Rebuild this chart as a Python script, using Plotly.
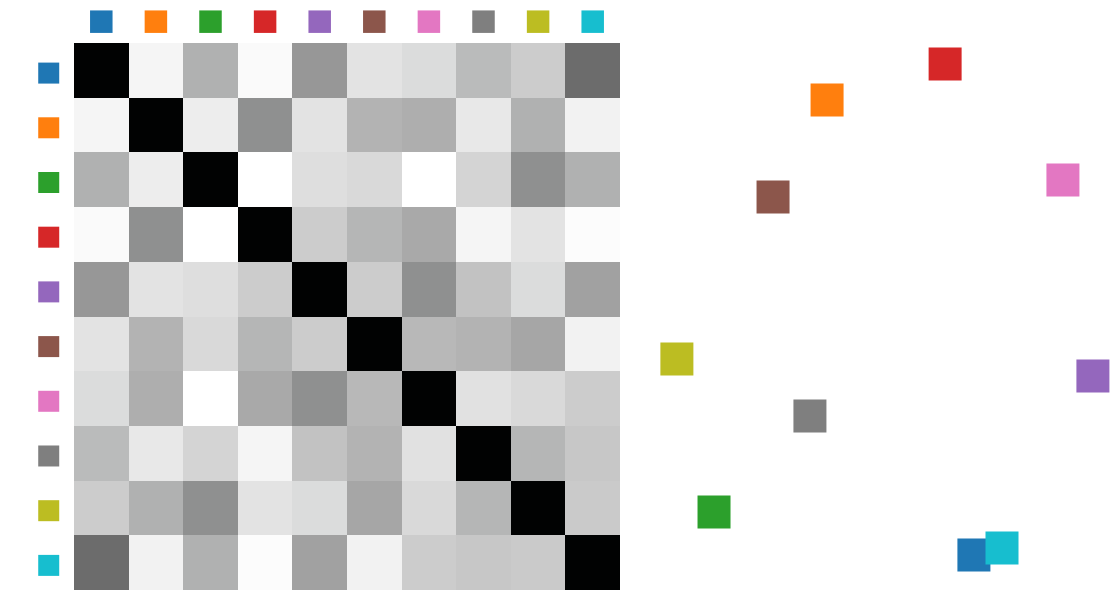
import plotly.graph_objects as go

# ---------------- data ----------------
categories = ["blue", "orange", "green", "red", "purple",
              "brown", "pink", "gray", "olive", "cyan"]
colors = ["#1f77b4", "#ff7f0e", "#2ca02c", "#d62728", "#9467bd",
          "#8c564b", "#e377c2", "#7f7f7f", "#bcbd22", "#17becf"]

# similarity matrix (1 = black, 0 = white)
similarity = [
    [1.00, 0.04, 0.31, 0.02, 0.41, 0.11, 0.14, 0.27, 0.20, 0.58],
    [0.04, 1.00, 0.07, 0.44, 0.11, 0.30, 0.32, 0.09, 0.31, 0.05],
    [0.31, 0.07, 1.00, 0.00, 0.13, 0.15, 0.00, 0.17, 0.44, 0.31],
    [0.02, 0.44, 0.00, 1.00, 0.20, 0.29, 0.34, 0.04, 0.11, 0.01],
    [0.41, 0.11, 0.13, 0.20, 1.00, 0.20, 0.44, 0.24, 0.14, 0.37],
    [0.11, 0.30, 0.15, 0.29, 0.20, 1.00, 0.28, 0.30, 0.35, 0.05],
    [0.14, 0.32, 0.00, 0.34, 0.44, 0.28, 1.00, 0.12, 0.15, 0.20],
    [0.27, 0.09, 0.17, 0.04, 0.24, 0.30, 0.12, 1.00, 0.29, 0.22],
    [0.20, 0.31, 0.44, 0.11, 0.14, 0.35, 0.15, 0.29, 1.00, 0.21],
    [0.58, 0.05, 0.31, 0.01, 0.37, 0.05, 0.20, 0.22, 0.21, 1.00],
]

# 2-D embedding of the categories (right panel)
embed_x = [0.403, -0.214, -0.689, 0.282, 0.903, -0.441, 0.777, -0.286, -0.845, 0.521]
embed_y = [-0.859, 0.665, -0.715, 0.786, -0.260, 0.340, 0.397, -0.394, -0.203, -0.836]

# ---------------- figure ----------------
W, H = 1116, 597
n = len(categories)
idx = list(range(n))

TOP_LABEL_OFFSET = 0.39    # cell units above the top edge
LEFT_LABEL_OFFSET = 0.463  # cell units left of the left edge
LEFT_LABEL_SHIFT = 0.05    # small downward nudge of the row labels

fig = go.Figure()

fig.add_trace(go.Heatmap(
    z=similarity, x=idx, y=idx,
    colorscale=[[0, "rgb(255,255,255)"], [1, "rgb(1,2,2)"]],
    zmin=0, zmax=1, showscale=False, hoverinfo="skip",
    xaxis="x", yaxis="y",
))

# column labels (top)
fig.add_trace(go.Scatter(
    x=idx, y=[-0.5 - TOP_LABEL_OFFSET] * n, mode="markers",
    marker=dict(symbol="square", size=22.5, color=colors, line=dict(width=0)),
    text=categories, hoverinfo="text", cliponaxis=False,
    xaxis="x", yaxis="y", showlegend=False,
))
# row labels (left)
fig.add_trace(go.Scatter(
    x=[-0.5 - LEFT_LABEL_OFFSET] * n, y=[i + LEFT_LABEL_SHIFT for i in idx],
    mode="markers",
    marker=dict(symbol="square", size=21, color=colors, line=dict(width=0)),
    text=categories, hoverinfo="text", cliponaxis=False,
    xaxis="x", yaxis="y", showlegend=False,
))

# embedding scatter
fig.add_trace(go.Scatter(
    x=embed_x, y=embed_y, mode="markers",
    marker=dict(symbol="square", size=33, color=colors, line=dict(width=0)),
    text=categories, hoverinfo="text", cliponaxis=False,
    xaxis="x2", yaxis="y2", showlegend=False,
))

hm_left, hm_right, hm_top, hm_bottom = 74, 620, 43, 590
cell_w = (hm_right - hm_left) / n
cell_h = (hm_bottom - hm_top) / n

fig.update_layout(
    width=W, height=H,
    margin=dict(l=0, r=0, t=0, b=0),
    paper_bgcolor="white", plot_bgcolor="white",
    showlegend=False,
    xaxis=dict(domain=[0, hm_right / W],
               range=[-0.5 - hm_left / cell_w, n - 0.5],
               visible=False, fixedrange=True),
    yaxis=dict(domain=[(H - hm_bottom) / H, 1],
               range=[n - 0.5, -0.5 - hm_top / cell_h],
               visible=False, fixedrange=True),
    xaxis2=dict(domain=[640 / W, 1], range=[-1, 1], visible=False,
                anchor="y2", fixedrange=True),
    yaxis2=dict(domain=[0, 1], range=[-1, 1], visible=False,
                anchor="x2", fixedrange=True),
)

fig.write_html("out.html")
